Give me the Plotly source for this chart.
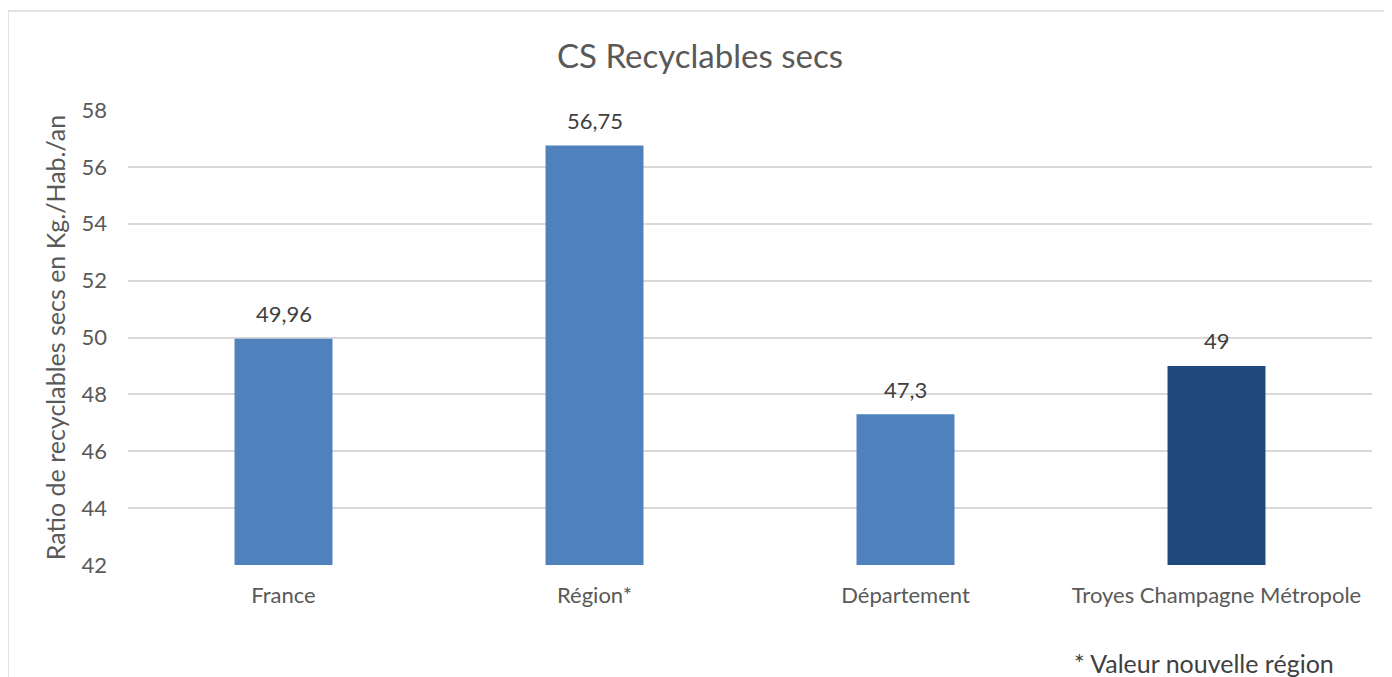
import plotly.graph_objects as go

categories = ["France", "Région*", "Département", "Troyes Champagne Métropole"]
values = [49.96, 56.75, 47.3, 49]
labels = ["49,96", "56,75", "47,3", "49"]
colors = ["#4F81BD", "#4F81BD", "#4F81BD", "#1F497D"]
y_ticks = [42, 44, 46, 48, 50, 52, 54, 56, 58]

# page body has an 8px margin; work in window pixels and subtract it
O = 8
WIN_W, WIN_H = 1392, 677
W, H = WIN_W - O, WIN_H - O
PL, PR, PT, PB = 128, 1372, 110, 565   # plot area in window pixels
L, R, T, B = PL - O, W - (PR - O), PT - O, H - (PB - O)
pw, ph = PR - PL, PB - PT

def px(x):
    return (x - PL) / pw

def py(y):
    return (PB - y) / ph

FONT = "Lato, Open Sans, sans-serif"
GREY = "#595959"

fig = go.Figure(go.Bar(
    x=categories, y=values, marker=dict(color=colors, line=dict(width=0)),
    hoverinfo="skip",
))

annotations = [dict(x=c, y=v, text=t, xref="x", yref="y", showarrow=False,
                    yanchor="middle", yshift=25,
                    font=dict(size=22, color="#404040", family=FONT))
               for c, v, t in zip(categories, values, labels)]
annotations.append(dict(text="* Valeur nouvelle région", xref="paper", yref="paper",
                        x=px(1336), y=py(663), xanchor="right", yanchor="middle",
                        showarrow=False, font=dict(size=25, color="#404040", family=FONT)))

fig.update_layout(
    width=W, height=H,
    margin=dict(l=L, r=R, t=T, b=B, autoexpand=False),
    paper_bgcolor="white", plot_bgcolor="white",
    bargap=0.685,
    showlegend=False,
    font=dict(family=FONT, color=GREY),
    title=dict(text="CS Recyclables secs", x=0.5, xanchor="center",
               y=1 - (56 - O) / H, yanchor="middle",
               font=dict(size=33, color=GREY, family=FONT)),
    xaxis=dict(showline=False, ticks="", tickfont=dict(size=22, color=GREY),
               showgrid=False, ticklabelstandoff=15),
    yaxis=dict(range=[42, 58], tickvals=y_ticks, showgrid=True, gridcolor="#D9D9D9",
               gridwidth=1.5, zeroline=False, showline=False, ticks="",
               ticklabelstandoff=20,
               tickfont=dict(size=22, color=GREY),
               title=dict(text="Ratio de recyclables secs en Kg./Hab./an",
                          font=dict(size=25, color=GREY), standoff=8)),
    shapes=[dict(type="rect", xref="paper", yref="paper",
                 x0=px(8), x1=px(1430), y0=py(740), y1=py(11),
                 line=dict(color="#D9D9D9", width=1.5), fillcolor="rgba(0,0,0,0)",
                 layer="below")],
    annotations=annotations,
)

fig.write_html("out.html")
